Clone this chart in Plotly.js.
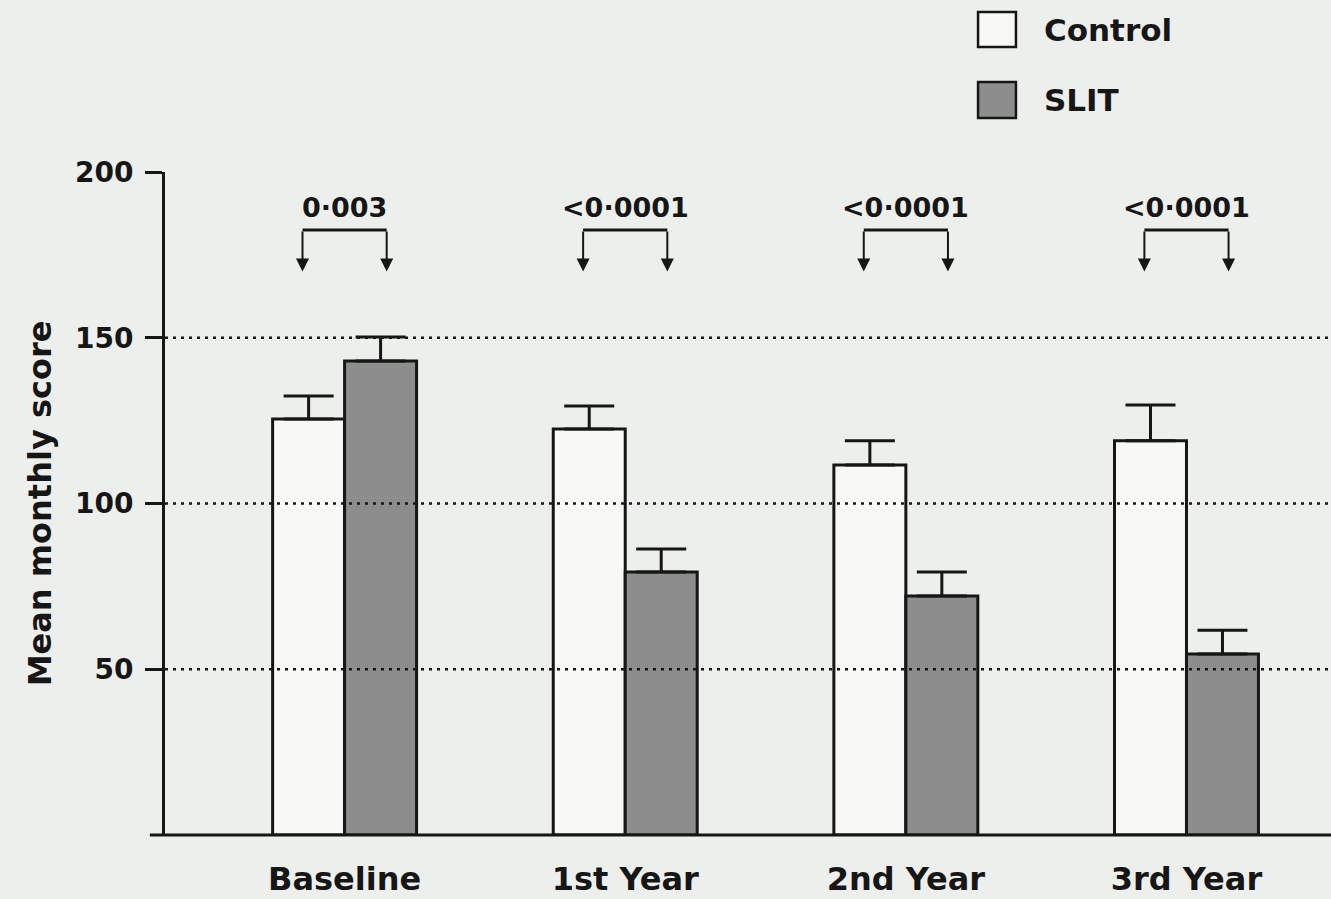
<!DOCTYPE html>
<html><head><meta charset="utf-8">
<script src="https://cdn.plot.ly/plotly-3.0.1.min.js"></script>
<style>html,body{margin:0;padding:0;background:#edefec}</style>
</head><body><div id="chart" style="width:1331px;height:899px"></div>
<script>
const categories = ['Baseline', '1st Year', '2nd Year', '3rd Year'];
const controlMean = [125.5, 122.5, 111.6, 118.9];
const controlErr = [6.9, 6.9, 7.3, 10.8];
const slitMean = [143.0, 79.3, 72.1, 54.6];
const slitErr = [7.2, 7.0, 7.2, 7.2];
const pValues = ['0·003', '<0·0001', '<0·0001', '<0·0001'];
const yTicks = [50, 100, 150, 200];
const gridValues = [50, 100, 150];
const seriesNames = ['Control', 'SLIT'];

const INK = '#161616';
const FONT = 'DejaVu Sans, Liberation Sans, Arial, sans-serif';
const controlFill = '#f8f8f6';
const slitFill = '#8d8d8d';

const traces = [
  {
    type: 'bar', name: seriesNames[0], x: categories, y: controlMean,
    marker: {color: controlFill, line: {color: INK, width: 3}},
    error_y: {type: 'data', symmetric: false, array: controlErr, arrayminus: controlErr.map(() => 0),
              color: INK, thickness: 3, width: 25},
    showlegend: false, hoverinfo: 'x+y'
  },
  {
    type: 'bar', name: seriesNames[1], x: categories, y: slitMean,
    marker: {color: slitFill, line: {color: INK, width: 3}},
    error_y: {type: 'data', symmetric: false, array: slitErr, arrayminus: slitErr.map(() => 0),
              color: INK, thickness: 3, width: 25},
    showlegend: false, hoverinfo: 'x+y'
  }
];

const shapes = [];
const annotations = [];

// dotted reference lines drawn over the bars
gridValues.forEach(v => shapes.push({
  type: 'line', xref: 'paper', yref: 'y', x0: 0, x1: 1, y0: v, y1: v,
  line: {color: INK, width: 2.5, dash: '3px,5px'}, layer: 'above'
}));

// x axis baseline (extends slightly left of the y axis)
shapes.push({type: 'line', xref: 'paper', yref: 'paper', x0: -0.013, x1: 1, y0: 0, y1: 0,
  line: {color: INK, width: 3}, layer: 'above'});

// significance brackets
const armOffset = 0.15, bracketTop = 182.5, arrowTip = 170;
categories.forEach((c, i) => {
  shapes.push({type: 'line', xref: 'x', yref: 'y', x0: i - armOffset, x1: i + armOffset,
    y0: bracketTop, y1: bracketTop, line: {color: INK, width: 3}, layer: 'above'});
  [-armOffset, armOffset].forEach(d => annotations.push({
    xref: 'x', yref: 'y', axref: 'x', ayref: 'y', x: i + d, y: arrowTip, ax: i + d, ay: bracketTop,
    text: '', showarrow: true, arrowhead: 2, arrowsize: 1.3, arrowwidth: 2, arrowcolor: INK, standoff: 0
  }));
  annotations.push({xref: 'x', yref: 'y', x: i, y: bracketTop + 1.6, yanchor: 'bottom', xanchor: 'center',
    text: pValues[i], showarrow: false, font: {family: FONT, size: 27, color: INK, weight: 'bold'}});
});

// legend (drawn as boxes + labels)
const legendBoxes = [
  {y0: 1.1885, y1: 1.2413, fill: controlFill, ty: 1.2140},
  {y0: 1.0814, y1: 1.1357, fill: slitFill, ty: 1.1080}
];
legendBoxes.forEach((b, k) => {
  shapes.push({type: 'rect', xref: 'paper', yref: 'paper', x0: 0.6973, x1: 0.7298, y0: b.y0, y1: b.y1,
    fillcolor: b.fill, line: {color: INK, width: 2.5}});
  annotations.push({xref: 'paper', yref: 'paper', x: 0.7521, y: b.ty, xanchor: 'left', yanchor: 'middle',
    text: seriesNames[k], showarrow: false, font: {family: FONT, size: 31, color: INK, weight: 'bold'}});
});

const layout = {
  width: 1331, height: 899,
  margin: {l: 165, r: 0, t: 172, b: 64, pad: 0},
  paper_bgcolor: '#edefec', plot_bgcolor: '#edefec',
  showlegend: false,
  barmode: 'group', bargap: 0.487, bargroupgap: 0,
  font: {family: FONT, color: INK},
  xaxis: {
    type: 'category', range: [-0.64, 3.515], showline: false, ticks: '', showgrid: false, zeroline: false,
    tickfont: {family: FONT, size: 32, color: INK, weight: 'bold'}, ticklabelstandoff: 22
  },
  yaxis: {
    range: [0, 200], tickvals: yTicks, ticktext: yTicks.map(String), ticks: 'outside', ticklen: 17, tickwidth: 3,
    tickcolor: INK, showline: true, linewidth: 3, linecolor: INK, showgrid: false, zeroline: false,
    tickfont: {family: FONT, size: 28, color: INK, weight: 'bold'}, ticklabelstandoff: 6,
    title: {text: 'Mean monthly score', font: {family: FONT, size: 32, color: INK, weight: 'bold'}, standoff: 14}
  },
  shapes: shapes,
  annotations: annotations
};

Plotly.newPlot('chart', traces, layout, {displayModeBar: false, staticPlot: true});
</script>
</body></html>
